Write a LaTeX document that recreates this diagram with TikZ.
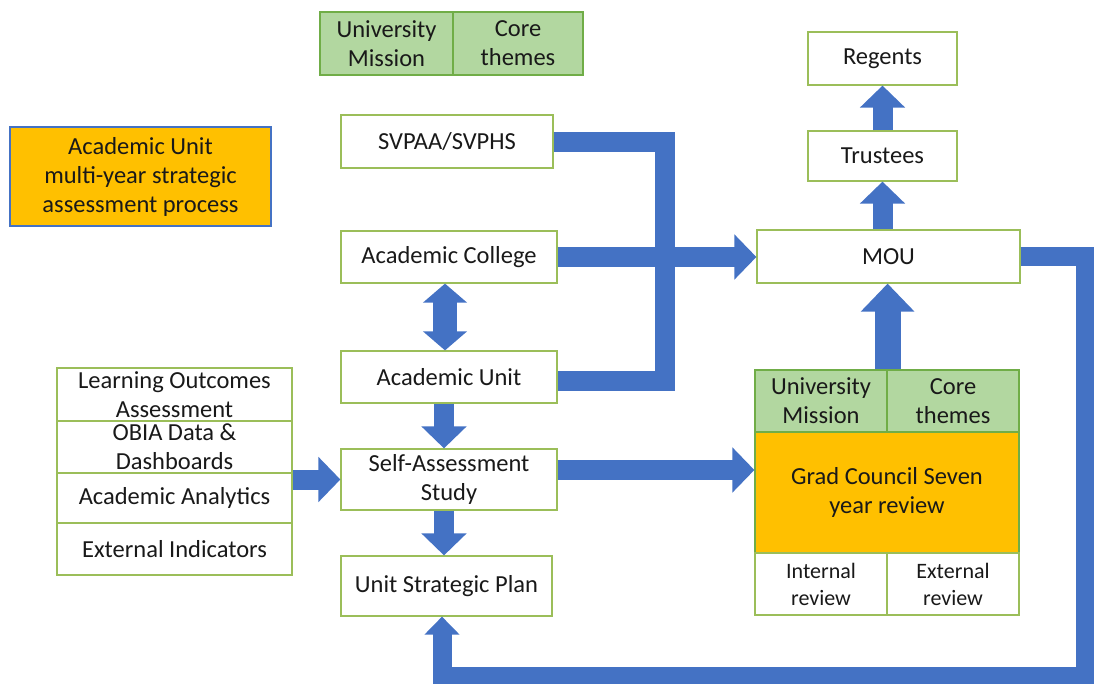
\documentclass[tikz,border=0pt]{standalone}
\usepackage{fontspec}
\setmainfont{Carlito}
\usetikzlibrary{arrows.meta}
\definecolor{flowblue}{RGB}{68,114,196}
\definecolor{boxgreen}{RGB}{155,190,89}
\definecolor{darkgreen}{RGB}{112,173,71}
\definecolor{lightgreen}{RGB}{178,215,160}
\definecolor{orangeA}{RGB}{255,192,0}
\begin{document}
\begin{tikzpicture}[x=1pt,y=-1pt,
  box/.style={draw=boxgreen, line width=1.2pt, fill=white, inner sep=0pt, align=center,
    font=\fontsize{24.5}{29}\selectfont, text=black!90},
  smallbox/.style={box, font=\fontsize{22}{27}\selectfont},
  gbox/.style={box, fill=lightgreen, draw=darkgreen},
  obox/.style={box, fill=orangeA, draw=darkgreen},
  arr/.style={draw=flowblue, line width=20pt, -{Triangle[width=44pt,length=22pt]}},
  bigarr/.style={draw=flowblue, line width=26pt, -{Triangle[width=52pt,length=28pt]}},
  dblarr/.style={draw=flowblue, line width=24pt, {Triangle[width=43pt,length=19pt]}-{Triangle[width=43pt,length=19pt]}},
  looparr/.style={draw=flowblue, line width=19pt, line join=miter, -{Triangle[width=34pt,length=18pt]}},
  bar/.style={draw=flowblue, line width=20pt, line join=miter},
]
\useasboundingbox (0,0) rectangle (1094,684);

% top mission / themes
\node[gbox, minimum width=133pt, minimum height=63pt] (um1) at (386.5,43.5) {University\\Mission};
\node[gbox, minimum width=130pt, minimum height=63pt] (ct1) at (518,43.5) {Core\\themes};

% title
\node[box, fill=orangeA, draw=flowblue, minimum width=261pt, minimum height=99pt] (title) at (140.5,176.5)
  {Academic Unit\\multi-year strategic\\assessment process};

% centre column
\node[box, minimum width=212pt, minimum height=53pt] (svp) at (447,141.5) {SVPAA/SVPHS};
\node[box, minimum width=216pt, minimum height=52pt] (col) at (449,257) {Academic College};
\node[box, minimum width=216pt, minimum height=52pt] (unit) at (449,377) {Academic Unit};
\node[box, minimum width=216pt, minimum height=61pt] (sas) at (449,479.5) {Self-Assessment\\Study};
\node[box, minimum width=211pt, minimum height=60pt] (usp) at (446.5,586) {Unit Strategic Plan};

% left stack
\node[box, minimum width=235pt, minimum height=53pt] (loa) at (174.5,394.5) {Learning Outcomes\\Assessment};
\node[box, minimum width=235pt, minimum height=52pt] (obia) at (174.5,447) {OBIA Data \&\\Dashboards};
\node[box, minimum width=235pt, minimum height=50pt] (aa) at (174.5,498) {Academic Analytics};
\node[box, minimum width=235pt, minimum height=52pt] (ei) at (174.5,549) {External Indicators};

% right column
\node[box, minimum width=149pt, minimum height=53pt] (reg) at (882.5,58.5) {Regents};
\node[box, minimum width=149pt, minimum height=50pt] (tru) at (882.5,156) {Trustees};
\node[box, minimum width=263pt, minimum height=53pt] (mou) at (888.5,256.5) {MOU};
\node[gbox, minimum width=132pt, minimum height=62pt] (um2) at (821,401) {University\\Mission};
\node[gbox, minimum width=132pt, minimum height=62pt] (ct2) at (953,401) {Core\\themes};
\node[obox, minimum width=264pt, minimum height=121pt] (gc) at (887,492.5) {Grad Council Seven\\year review};
\node[smallbox, minimum width=132pt, minimum height=62pt] (ir) at (821,584) {Internal\\review};
\node[smallbox, minimum width=132pt, minimum height=62pt] (er) at (953,584) {External\\review};

% connectors
\coordinate (jx) at (665,381);
\draw[bar] ([yshift=-1pt]svp.east) -| (jx) -- (jx -| unit.east);
\draw[arr] (col.east) -- (col.east -| mou.west);
\draw[dblarr] ([xshift=-4pt]col.south) -- ([xshift=-4pt]unit.north);
\draw[arr] ([xshift=-5pt]unit.south) -- ([xshift=-5pt]sas.north);
\draw[arr] ([xshift=-5pt]sas.south) -- ([xshift=-5pt]sas.south |- usp.north);
\draw[arr] (sas.west -| obia.east) -- (sas.west);
\draw[arr] ([yshift=9.5pt]sas.east) -- ([yshift=9.5pt]sas.east -| gc.west);
\draw[bigarr] (um2.north east) -- (um2.north east |- mou.south);
\draw[arr] (mou.north -| tru.south) -- (tru.south);
\draw[arr] (tru.north) -- (reg.south);
\coordinate (r1) at (1085,676);
\draw[looparr] (mou.east) -| (r1) -| ([xshift=-4.5pt]usp.south);
\end{tikzpicture}
\end{document}
